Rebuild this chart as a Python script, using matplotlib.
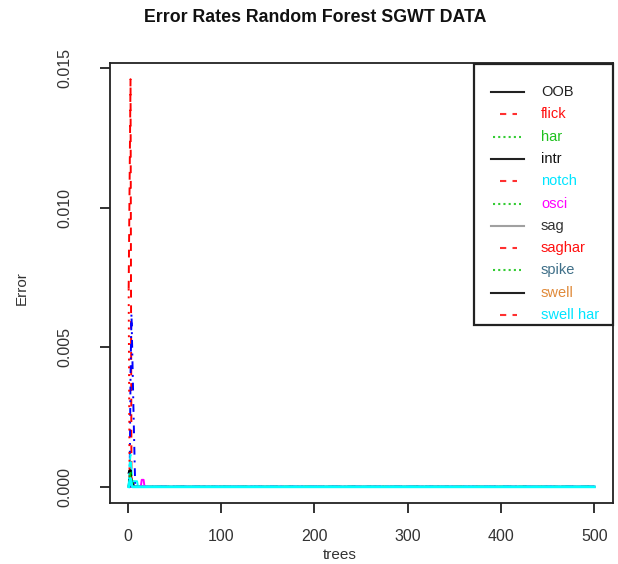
import numpy as np
import matplotlib
matplotlib.use("Agg")
import matplotlib.pyplot as plt
from matplotlib.lines import Line2D
from matplotlib.patches import Rectangle

plt.rcParams['font.family'] = ['Liberation Sans', 'DejaVu Sans']

W, H = 618, 564
n_trees = 500

# error rates for the first trees (all later trees are 0)
classes = ["OOB", "flick", "har", "intr", "notch", "osci", "sag", "saghar",
           "spike", "swell", "swell har"]
head_OOB      = [0.0005, 0.0006, 0.0004, 0.0003, 0.0002, 0.0001, 0.0]
head_flick    = [0.0071, 0.0110, 0.0146, 0.0, 0.0]
head_har      = [0.0, 0.0003, 0.0005, 0.0004, 0.0002, 0.0]
head_intr     = [0.0, 0.0, 0.0040, 0.0062, 0.0045, 0.0030, 0.0015, 0.0]
head_notch    = [0.0, 0.0008, 0.00115, 0.0006, 0.0003, 0.0002, 0.0002, 0.0002, 0.0002, 0.0002, 0.0]
head_osci     = [0.0, 0.0, 0.0, 0.0, 0.0, 0.0, 0.0, 0.0, 0.0, 0.0, 0.0, 0.0, 0.0, 0.0,
                 0.00025, 0.00025, 0.00025, 0.0]
head_sag      = [0.0, 0.0004, 0.0006, 0.0003, 0.0]
head_saghar   = [0.0071, 0.0, 0.0]
head_spike    = [0.0, 0.0, 0.0005, 0.0003, 0.0002, 0.0]
head_swell    = [0.0, 0.0, 0.0003, 0.0002, 0.0]
head_swellhar = [0.0, 0.0002, 0.0003, 0.0001, 0.0]

heads = [head_OOB, head_flick, head_har, head_intr, head_notch, head_osci,
         head_sag, head_saghar, head_spike, head_swell, head_swellhar]

# R matplot styles: col = 1:6, lty = 1:5 cycling
r_cols = ["black", "#FF0000", "#00CD00", "#0000FF", "#00FFFF", "#FF00FF"]
r_ltys = ["-", (0, (4, 4)), (0, (1, 3)), (0, (1, 3, 4, 3)), (0, (7, 3))]

legend_text_cols = ["#222222", "#FF1010", "#1FC11F", "#111111", "#00E5FF", "#FF00FF",
                    "#333333", "#FF1010", "#3F6F88", "#E08A3A", "#00E5FF"]
legend_line_cols = ["#222222", "#FF3030", "#33CC33"] * 4
legend_line_lty = ["-", (0, (3, 3)), (0, (1, 1.5))] * 4
legend_line_x = [(491, 524), (500, 517), (493, 521)] * 4
legend_line_cols[6] = "#A0A0A0"

trees = np.arange(1, n_trees + 1)

fig = plt.figure(figsize=(W / 100, H / 100), dpi=100)
L, R, T, B = 110, 613, 63, 503
ax = fig.add_axes([L / W, 1 - B / H, (R - L) / W, (B - T) / H])

for i, h in enumerate(heads):
    y = np.concatenate([np.array(h), np.zeros(n_trees - len(h))])
    lw = 2.0 if i == len(heads) - 1 else 1.4
    ax.plot(trees, y, color=r_cols[i % 6], linestyle=r_ltys[i % 5], lw=lw)

ax.set_xlim(-19, 520)
ax.set_ylim(-0.00058, 0.01518)
ax.set_xticks([0, 100, 200, 300, 400, 500])
ax.set_yticks([0.0, 0.005, 0.010, 0.015])
ax.set_yticklabels(["0.000", "0.005", "0.010", "0.015"])
ax.tick_params(axis='x', length=7, width=1.3, pad=12, labelsize=11.5, colors="#222222",
               labelcolor="#333333")
ax.tick_params(axis='y', length=7, width=1.3, pad=20, labelsize=11.5, labelrotation=90,
               colors="#222222", labelcolor="#333333")
for lab in ax.get_yticklabels():
    lab.set_va('center')
for s in ax.spines.values():
    s.set_linewidth(1.3)
    s.set_color("#222222")

def fx(x):
    return x / W

def fy(y):
    return 1 - y / H

fig.text(fx(315), fy(18), "Error Rates Random Forest SGWT DATA", ha='center', va='center',
         fontsize=12.8, fontweight='bold', color="#111111")
fig.text(fx(340), fy(555), "trees", ha='center', va='center', fontsize=11, color="#333333")
fig.text(fx(22), fy(288), "Error", ha='center', va='center', fontsize=11, rotation=90,
         color="#333333")

# legend box
lx0, lx1, ly0, ly1 = 474, 613, 64, 325
fig.patches.append(Rectangle((fx(lx0), fy(ly1)), (lx1 - lx0) / W, (ly1 - ly0) / H,
                             transform=fig.transFigure, facecolor='white',
                             edgecolor='#222222', lw=1.6, zorder=5))
y0, dy = 92, 22.3
for i, name in enumerate(classes):
    yy = y0 + i * dy
    xa, xb = legend_line_x[i]
    fig.lines.append(Line2D([fx(xa), fx(xb)], [fy(yy), fy(yy)], transform=fig.transFigure,
                            color=legend_line_cols[i], linestyle=legend_line_lty[i], lw=1.5,
                            zorder=6))
    fig.text(fx(541), fy(yy), name, ha='left', va='center', fontsize=10.5,
             color=legend_text_cols[i], zorder=7)

fig.savefig("out.png", dpi=100)
